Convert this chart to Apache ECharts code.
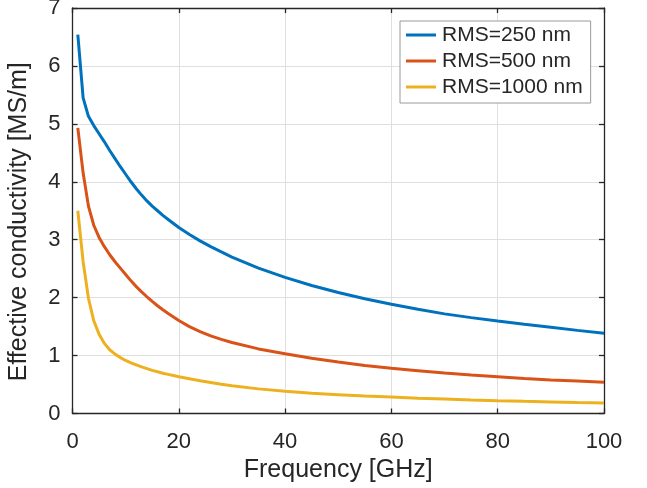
<!DOCTYPE html>
<html>
<head>
<meta charset="utf-8">
<script src="https://cdn.jsdelivr.net/npm/echarts@6/dist/echarts.min.js"></script>
<style>
  html, body { margin: 0; padding: 0; background: #fff; }
  #chart { width: 647px; height: 488px; }
</style>
</head>
<body>
<div id="chart"></div>
<script>
// Frequency samples (GHz) shared by every curve
const frequency = [1, 2, 3, 4, 5, 6, 7, 8, 9, 10, 11, 12, 13, 14, 15, 16, 17, 18, 19, 20,
                   22, 24, 26, 28, 30, 35, 40, 45, 50, 55, 60, 65, 70, 75, 80, 85, 90, 95, 100];

// Effective conductivity (MS/m) for each surface roughness
const rms250 = [6.54, 5.45, 5.13, 4.97, 4.83, 4.69, 4.54, 4.40, 4.26, 4.13,
                4.00, 3.88, 3.77, 3.67, 3.58, 3.50, 3.42, 3.35, 3.28, 3.21,
                3.09, 2.98, 2.88, 2.79, 2.70, 2.51, 2.35, 2.21, 2.09, 1.98,
                1.885, 1.80, 1.72, 1.655, 1.595, 1.54, 1.49, 1.435, 1.385];
const rms500 = [4.93, 4.15, 3.58, 3.25, 3.04, 2.88, 2.74, 2.62, 2.51, 2.40,
                2.29, 2.19, 2.10, 2.015, 1.935, 1.86, 1.79, 1.725, 1.665, 1.605,
                1.50, 1.415, 1.34, 1.28, 1.225, 1.115, 1.03, 0.955, 0.89, 0.83,
                0.78, 0.74, 0.70, 0.665, 0.635, 0.605, 0.58, 0.56, 0.538];
const rms1000 = [3.50, 2.62, 1.99, 1.60, 1.37, 1.21, 1.10, 1.025, 0.965, 0.915,
                 0.875, 0.84, 0.805, 0.775, 0.745, 0.72, 0.695, 0.675, 0.655, 0.635,
                 0.600, 0.565, 0.535, 0.505, 0.48, 0.425, 0.383, 0.35, 0.325, 0.30,
                 0.283, 0.265, 0.25, 0.235, 0.222, 0.21, 0.20, 0.19, 0.183];

const seriesNames = ['RMS=250 nm', 'RMS=500 nm', 'RMS=1000 nm'];
const seriesValues = [rms250, rms500, rms1000];
const seriesColors = ['#0072BD', '#D95319', '#EDB120'];

const xTicks = { min: 0, max: 100, interval: 20 };
const yTicks = { min: 0, max: 7, interval: 1 };

const FONT = '"Liberation Sans", Arial, Helvetica, sans-serif';
const INK = '#262626';

const chart = echarts.init(document.getElementById('chart'), null, { renderer: 'canvas' });

// Mirror axes that close the plot box (top and right) with inward ticks
const frameAxis = {
  axisLine: { show: true, onZero: false, lineStyle: { color: INK, width: 1.3 } },
  axisTick: { show: true, inside: true, length: 5, lineStyle: { color: INK, width: 1.3 } },
  splitLine: { show: false },
  axisLabel: { show: false }
};

const option = {
  animation: false,
  backgroundColor: '#ffffff',
  textStyle: { fontFamily: FONT },
  grid: { left: 72.5, right: 43, top: 8, bottom: 74.5, containLabel: false, outerBoundsMode: 'none' },
  legend: {
    orient: 'vertical',
    left: 400,
    top: 21,
    padding: [1, 8, 3, 6],
    itemGap: 0,
    itemWidth: 30,
    itemHeight: 3,
    icon: 'rect',
    backgroundColor: '#ffffff',
    borderColor: '#9a9a9a',
    borderWidth: 1,
    borderRadius: 0,
    textStyle: { fontFamily: FONT, fontSize: 21, color: INK, lineHeight: 26, padding: [0, 0, 0, 1] },
    data: seriesNames
  },
  xAxis: [
    {
      type: 'value',
      position: 'bottom',
      min: xTicks.min, max: xTicks.max, interval: xTicks.interval,
      name: 'Frequency [GHz]',
      nameLocation: 'middle',
      nameGap: 42,
      nameTextStyle: { fontFamily: FONT, fontSize: 25, color: INK },
      axisLine: { show: true, onZero: false, lineStyle: { color: INK, width: 1.3 } },
      axisTick: { show: true, inside: true, length: 5, lineStyle: { color: INK, width: 1.3 } },
      axisLabel: { fontFamily: FONT, fontSize: 22, color: INK, margin: 17 },
      splitLine: { show: true, lineStyle: { color: '#dfdfdf', width: 1 } }
    },
    Object.assign({
      type: 'value',
      position: 'top',
      min: xTicks.min, max: xTicks.max, interval: xTicks.interval
    }, frameAxis)
  ],
  yAxis: [
    {
      type: 'value',
      position: 'left',
      min: yTicks.min, max: yTicks.max, interval: yTicks.interval,
      name: 'Effective conductivity [MS/m]',
      nameLocation: 'middle',
      nameGap: 41,
      nameTextStyle: { fontFamily: FONT, fontSize: 25, color: INK, padding: [0, 22, 0, 0] },
      axisLine: { show: true, onZero: false, lineStyle: { color: INK, width: 1.3 } },
      axisTick: { show: true, inside: true, length: 5, lineStyle: { color: INK, width: 1.3 } },
      axisLabel: { fontFamily: FONT, fontSize: 22, color: INK, margin: 12 },
      splitLine: { show: true, lineStyle: { color: '#dfdfdf', width: 1 } }
    },
    Object.assign({
      type: 'value',
      position: 'right',
      min: yTicks.min, max: yTicks.max, interval: yTicks.interval
    }, frameAxis)
  ],
  series: seriesNames.map((name, i) => ({
    name: name,
    type: 'line',
    xAxisIndex: 0,
    yAxisIndex: 0,
    showSymbol: false,
    symbol: 'none',
    smooth: false,
    color: seriesColors[i],
    lineStyle: { color: seriesColors[i], width: 3 },
    data: frequency.map((f, k) => [f, seriesValues[i][k]])
  }))
};

chart.setOption(option);
</script>
</body>
</html>
